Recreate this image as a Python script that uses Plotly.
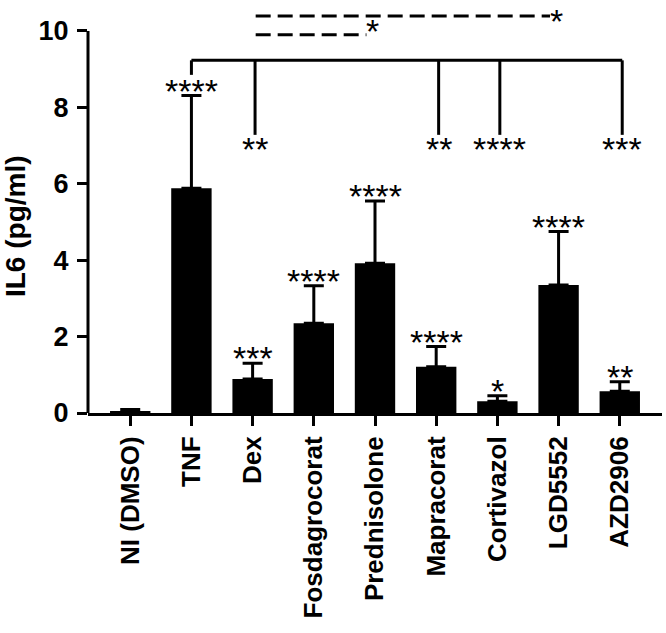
import plotly.graph_objects as go

# ---------------- data ----------------
categories = ["NI (DMSO)", "TNF", "Dex", "Fosdagrocorat", "Prednisolone",
              "Mapracorat", "Cortivazol", "LGD5552", "AZD2906"]
means = [0.05, 5.88, 0.89, 2.35, 3.92, 1.21, 0.31, 3.35, 0.57]
errors = [0.04, 2.43, 0.41, 0.98, 1.63, 0.53, 0.14, 1.40, 0.25]
sig_vs_ni = ["", "****", "***", "****", "****", "****", "*", "****", "**"]

# bracket: TNF vs. treatments
bracket_ref = "TNF"
bracket_level = 9.23
bracket_ref_drop = 8.85
bracket_targets = ["Dex", "Mapracorat", "Cortivazol", "AZD2906"]
bracket_labels = ["**", "**", "****", "***"]
bracket_drop = 7.28

# dashed comparisons: (from, to, level, label)
dashed_from = ["Dex", "Dex"]
dashed_to = ["LGD5552", "Prednisolone"]
dashed_level = [10.39, 9.90]
dashed_label = ["*", "*"]

y_ticks = [0, 2, 4, 6, 8, 10]
y_title = "IL6 (pg/ml)"

FONT = "Liberation Sans, Arial, sans-serif"
idx = {c: i for i, c in enumerate(categories)}

fig = go.Figure()
fig.add_trace(go.Bar(
    x=list(range(len(categories))), y=means,
    width=0.66,
    marker=dict(color="black", line=dict(width=0)),
    error_y=dict(type="data", symmetric=False, array=errors,
                 arrayminus=[0] * len(errors),
                 color="black", thickness=3, width=10),
    showlegend=False,
))

shapes = []
annotations = []
STAR = dict(family=FONT, size=34, color="black")

# y axis line (0 to 10 only)
shapes.append(dict(type="line", xref="paper", yref="y", x0=0, x1=0,
                   y0=y_ticks[0], y1=y_ticks[-1],
                   line=dict(color="black", width=3)))

# asterisks over bars
for i, s in enumerate(sig_vs_ni):
    if s:
        annotations.append(dict(x=i, y=means[i] + errors[i], xref="x", yref="y",
                                text=s, showarrow=False, yanchor="middle",
                                yshift=5, font=STAR))

# bracket
xr = idx[bracket_ref]
xt = [idx[t] + 0.04 for t in bracket_targets]
shapes.append(dict(type="line", xref="x", yref="y", x0=xr, x1=max(xt),
                   y0=bracket_level, y1=bracket_level,
                   line=dict(color="black", width=3)))
shapes.append(dict(type="line", xref="x", yref="y", x0=xr, x1=xr,
                   y0=bracket_level, y1=bracket_ref_drop,
                   line=dict(color="black", width=3)))
for x, lab in zip(xt, bracket_labels):
    shapes.append(dict(type="line", xref="x", yref="y", x0=x, x1=x,
                       y0=bracket_level, y1=bracket_drop,
                       line=dict(color="black", width=3)))
    annotations.append(dict(x=x, y=bracket_drop, xref="x", yref="y",
                            text=lab, showarrow=False, yanchor="middle",
                            yshift=-14, font=STAR))

# dashed comparisons
for k, (f, t, lv, lab) in enumerate(zip(dashed_from, dashed_to, dashed_level, dashed_label)):
    x0 = idx[f] + 0.05
    x1 = idx[t] - 0.14
    shapes.append(dict(type="line", xref="x", yref="y", x0=x0, x1=x1,
                       y0=lv, y1=lv,
                       line=dict(color="black", width=3, dash="15px,7px")))
    if lv == max(dashed_level):
        # keep the top-most star inside the page
        annotations.append(dict(x=x1, y=1.0, xref="x", yref="paper", text=lab,
                                showarrow=False, xanchor="left", yanchor="top",
                                xshift=-2, yshift=8, font=STAR))
    else:
        annotations.append(dict(x=x1, y=lv, xref="x", yref="y", text=lab,
                                showarrow=False, xanchor="left", yanchor="middle",
                                xshift=-2, yshift=4, font=STAR))

# y title
annotations.append(dict(x=-0.125, y=4.9, xref="paper", yref="y", text=y_title,
                        textangle=-90, showarrow=False,
                        xanchor="center", yanchor="middle",
                        font=dict(family=FONT, size=28, color="black",
                                  weight="bold")))

fig.update_layout(
    width=666, height=633,
    margin=dict(l=88, r=4, t=8, b=220),
    paper_bgcolor="white", plot_bgcolor="white",
    shapes=shapes, annotations=annotations,
    bargap=0.3,
    xaxis=dict(range=[-0.69, 8.69], tickmode="array",
               tickvals=list(range(len(categories))), ticktext=categories,
               tickangle=-90, showline=True, linecolor="black", linewidth=3,
               ticks="outside", ticklen=10, tickwidth=3, tickcolor="black",
               showgrid=False, zeroline=False,
               tickfont=dict(family=FONT, size=26, color="black", weight="bold")),
    yaxis=dict(range=[0, 10.6], tickmode="array", tickvals=y_ticks,
               showline=False, ticks="outside", ticklen=10, tickwidth=3,
               tickcolor="black", showgrid=False, zeroline=False,
               ticklabelstandoff=3,
               tickfont=dict(family=FONT, size=27, color="black", weight="bold")),
)

fig.write_html("out.html",
               config={"displayModeBar": False},
               post_script="document.body.style.margin='0';"
                           "document.body.style.overflow='hidden';")
